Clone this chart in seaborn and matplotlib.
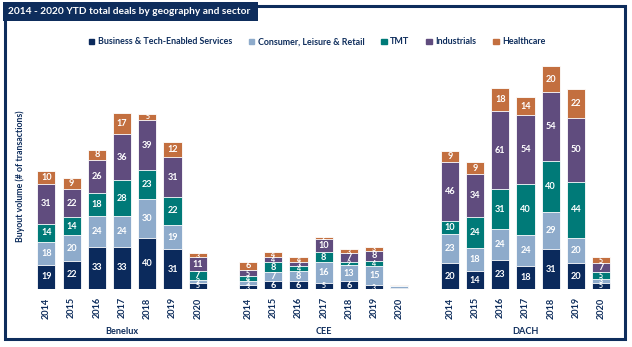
import numpy as np
import pandas as pd
import matplotlib
matplotlib.use("Agg")
import matplotlib.pyplot as plt
from matplotlib.patches import Rectangle
import seaborn as sns

years = ["2014", "2015", "2016", "2017", "2018", "2019", "2020"]
regions = ["Benelux", "CEE", "DACH"]
sectors = ["Business & Tech-Enabled Services", "Consumer, Leisure & Retail",
           "TMT", "Industrials", "Healthcare"]

# deals per sector, one list per region (2014..2020)
benelux_bts = [19, 22, 33, 33, 40, 31, 5]
benelux_clr = [18, 20, 24, 24, 30, 19, 2]
benelux_tmt = [14, 14, 18, 28, 23, 22, 7]
benelux_ind = [31, 22, 26, 36, 39, 31, 11]
benelux_hc = [10, 9, 8, 17, 5, 12, 3]

cee_bts = [3, 6, 6, 5, 6, 3, 1]
cee_clr = [3, 7, 8, 16, 13, 15, 1]
cee_tmt = [4, 8, 4, 8, 2, 4, 0]
cee_ind = [5, 4, 3, 10, 7, 8, 0]
cee_hc = [6, 4, 4, 2, 3, 3, 1]

dach_bts = [20, 14, 23, 18, 31, 20, 5]
dach_clr = [23, 18, 24, 24, 29, 20, 3]
dach_tmt = [10, 24, 31, 40, 40, 44, 5]
dach_ind = [46, 34, 61, 54, 54, 50, 7]
dach_hc = [9, 9, 18, 14, 20, 22, 5]

colors = ["#0b2a5c", "#8eabcb", "#007a78", "#604c7e", "#c36f3f"]
navy = "#0e2d5c"

data = {
    "Benelux": [benelux_bts, benelux_clr, benelux_tmt, benelux_ind, benelux_hc],
    "CEE": [cee_bts, cee_clr, cee_tmt, cee_ind, cee_hc],
    "DACH": [dach_bts, dach_clr, dach_tmt, dach_ind, dach_hc],
}

rows = []
for g, region in enumerate(regions):
    for i, yr in enumerate(years):
        pos = g * 8 + i
        for s, sec in enumerate(sectors):
            rows.append({"region": region, "year": yr, "pos": pos,
                         "sector": sec, "value": data[region][s][i]})
df = pd.DataFrame(rows)
df["sector"] = pd.Categorical(df["sector"], sectors, ordered=True)
df = df.sort_values(["pos", "sector"])
df["top"] = df.groupby("pos")["value"].cumsum()
df["bottom"] = df["top"] - df["value"]

sns.set_theme(style="white")
plt.rcParams["font.family"] = ["Lato", "DejaVu Sans"]

fig = plt.figure(figsize=(6.32, 3.47), dpi=100)
W, H = 632, 347
ax = fig.add_axes([30 / W, 1 - 289 / H, 585 / W, 243 / H])

# stacked bars: draw cumulative heights from the top layer down
for s in reversed(range(len(sectors))):
    sub = df[df["sector"] == sectors[s]]
    sns.barplot(data=sub, x="pos", y="top", native_scale=True, color=colors[s],
                width=0.72, edgecolor="white", linewidth=0.6, saturation=1,
                ax=ax, errorbar=None)

for _, r in df.iterrows():
    if r["value"] >= 2:
        size = 6.6 if r["value"] >= 6 else 5.0
        ax.text(r["pos"], r["bottom"] + r["value"] / 2, str(r["value"]),
                ha="center", va="center", color="white", fontsize=size,
                fontweight="bold")

ax.set_xlim(-0.65, 22.55)
ax.set_ylim(0, 190)
ax.set_yticks([])
ax.set_ylabel("")
ax.set_xlabel("")
positions = [g * 8 + i for g in range(3) for i in range(7)]
ax.set_xticks(positions)
ax.set_xticklabels(years * 3, rotation=90, fontsize=6.6, fontweight="bold",
                   color=navy)
ax.tick_params(axis="x", length=0, pad=6)
for sp in ax.spines.values():
    sp.set_visible(False)

for g, region in enumerate(regions):
    ax.text(g * 8 + 3, -0.175, region, transform=ax.get_xaxis_transform(),
            ha="center", va="center", fontsize=6.6, fontweight="bold",
            color=navy)

fig.text(20 / W, 1 - 176 / H, "Buyout volume (# of transactions)", rotation=90,
         ha="center", va="center", fontsize=6.3, fontweight="bold", color=navy)

handles = [Rectangle((0, 0), 1, 1, color=c) for c in colors]
fig.legend(handles, sectors, loc="center", bbox_to_anchor=(0.502, 1 - 42 / H),
           ncol=5, frameon=False, handlelength=0.6,
           handleheight=0.6, handletextpad=0.4, columnspacing=1.9,
           prop={"weight": "bold", "size": 6.4})
for t in fig.legends[0].get_texts():
    t.set_color(navy)

# outer frame and title box
fig.patches.append(Rectangle((5 / W, 1 - 339 / H), 620 / W, 333 / H,
                             transform=fig.transFigure, fill=False,
                             edgecolor=navy, linewidth=2.2))
fig.patches.append(Rectangle((3 / W, 1 - 21 / H), 255 / W, 19 / H,
                             transform=fig.transFigure, facecolor=navy,
                             edgecolor=navy, linewidth=0))
fig.text(8 / W, 1 - 11.5 / H, "2014 - 2020 YTD total deals by geography and sector",
         ha="left", va="center", color="white", fontsize=7.3, fontweight="bold")

fig.savefig("out.png", dpi=100)
